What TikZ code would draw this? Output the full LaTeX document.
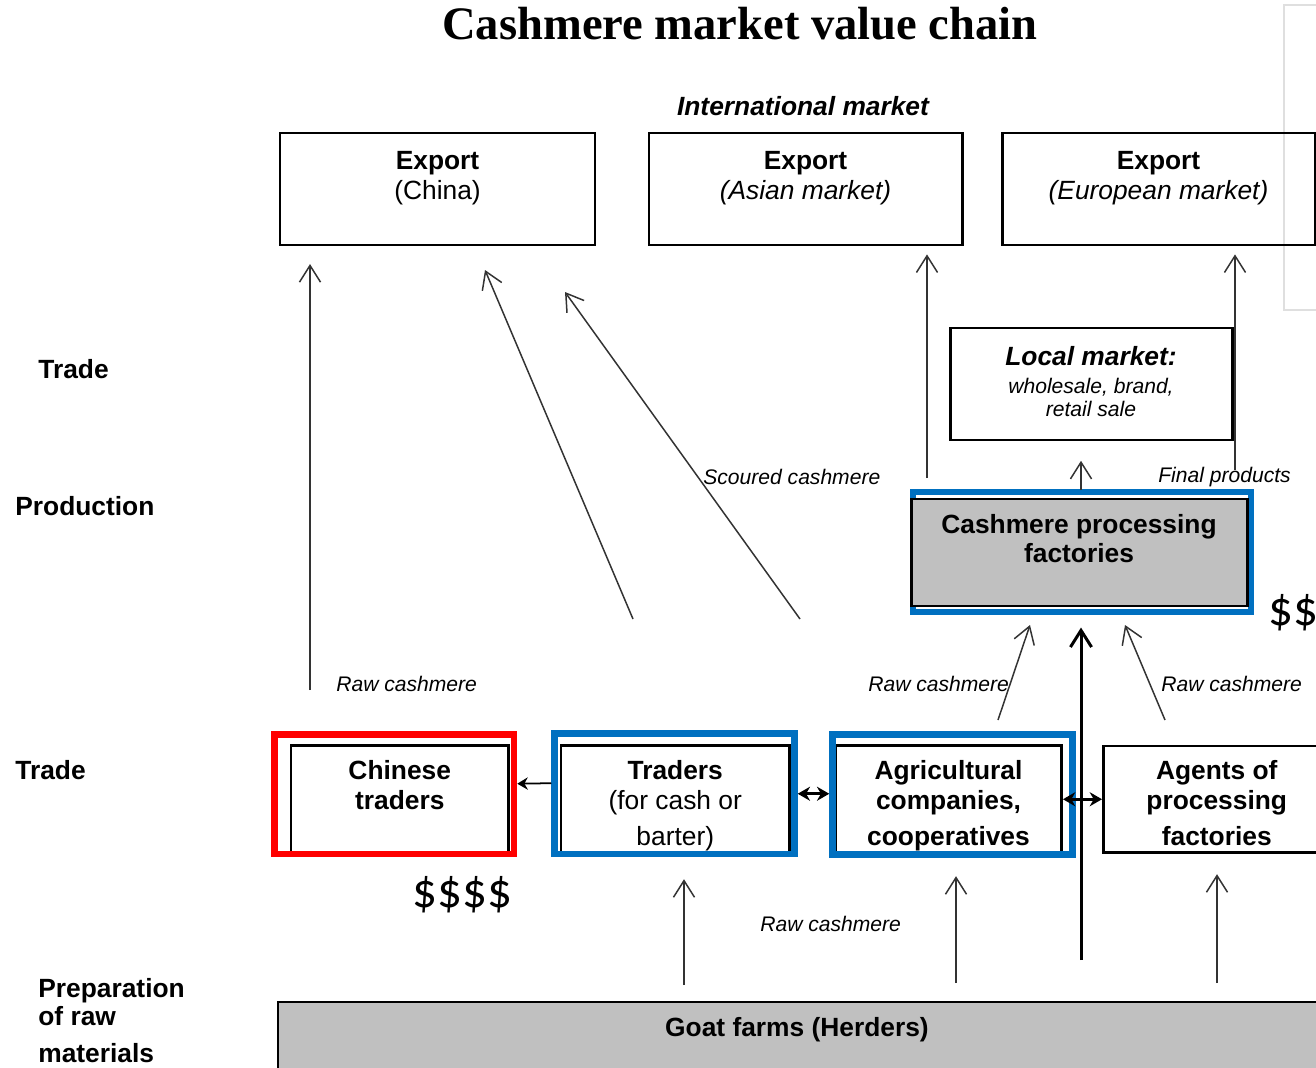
\documentclass[tikz,border=0pt]{standalone}
\usepackage{fontspec}
\setmainfont{Liberation Sans}
\newfontfamily\titlefont{Liberation Serif}
\newfontfamily\dollarfont{Carlito}
\usetikzlibrary{arrows.meta, positioning, fit}
\definecolor{boxblue}{HTML}{0070C0}
\definecolor{boxred}{HTML}{FF0000}
\definecolor{farmgray}{HTML}{C0C0C0}
\AtBeginDocument{\fontsize{15}{17}\selectfont}

\begin{document}
\begin{tikzpicture}[x=0.02cm, y=-0.02cm, align=center]
\tikzstyle{box}=[draw=black, line width=1.7pt, inner sep=0pt]
\tikzstyle{markframe}=[line width=3.7pt, inner sep=0pt]
\tikzstyle{inbox}=[inner sep=0pt]
\tikzstyle{flow}=[-{Straight Barb[length=9.5pt,width=12pt]}, draw=black!80, line width=0.85pt]
\tikzstyle{swap}=[{Stealth[length=7pt,width=8pt]}-{Stealth[length=7pt,width=8pt]}, line width=1.6pt]
\tikzstyle{note}=[inner sep=0pt, anchor=west, font=\fontsize{12}{14}\selectfont\itshape]
\tikzstyle{rowlabel}=[inner sep=0pt, align=left, font=\fontsize{15}{16}\selectfont\bfseries]
\tikzstyle{money}=[inner sep=0pt, anchor=west, font=\dollarfont\fontsize{28}{32}\selectfont]

\useasboundingbox (0,0) rectangle (1316,1068);
\draw[gray!25, line width=1pt] (1330,5) -- (1284,5) -- (1284,310) -- (1330,310);

\node (title) at (740,24) {\titlefont\bfseries\fontsize{26.5}{30}\selectfont Cashmere market value chain};
\node (intMarket) at (803,106) {\bfseries\itshape International market};

% export boxes
\node[box, fit={(280,133) (595,245)}] (expChina) {};
\node[box, fit={(649,133) (962,245)}] (expAsia) {};
\node[box, fit={(1002,133) (1315,245)}] (expEurope) {};
\node[inbox, below = 0.4cm of expChina.north] (expChinaText) {\textbf{Export}\\(China)};
\node[inbox, below = 0.4cm of expAsia.north] (expAsiaText) {\textbf{Export}\\\itshape(Asian market)};
\node[inbox, below = 0.4cm of expEurope.north] (expEuropeText) {\textbf{Export}\\\itshape(European market)};

% local market
\node[box, fit={(950,328) (1232,440)}] (localMarket) {};
\node[inbox, below = 0.4cm of localMarket.north, font=\fontsize{12}{13.5}\selectfont] (localMarketText)
  {{\fontsize{15}{17}\selectfont\bfseries\itshape Local market:}\\[2pt]\itshape wholesale, brand,\\\itshape retail sale};

% processing
\node[markframe, draw=boxblue, fit={(913,492) (1251,612)}] (procMark) {};
\node[box, fill=farmgray, fit={(911,499) (1247,606)}] (procFactories) {};
\node[inbox, below = 0.33cm of procFactories.north, font=\fontsize{15}{16.5}\selectfont\bfseries] (procText) {Cashmere processing\\factories};

% trade row
\node[box, fit={(291,745.5) (508.5,853)}] (chinaBox) {};
\node[markframe, draw=boxred, fit={(274.5,734.5) (514,854)}] (chinaMark) {};
\node[box, fit={(561,745.5) (789.5,853)}] (tradersBox) {};
\node[markframe, draw=boxblue, fit={(554.5,733.5) (794.5,854)}] (tradersMark) {};
\node[box, fit={(835.5,745.5) (1061.5,853)}] (agriBox) {};
\node[markframe, draw=boxblue, fit={(832.5,734.5) (1072.5,854.5)}] (agriMark) {};
\node[box, fit={(1103.5,746) (1330,852.5)}] (agents) {};
\node[inbox, below = 0.32cm of chinaBox.north, font=\bfseries] (chinaText) {Chinese\\traders};
\node[inbox, below = 0.32cm of tradersBox.north] (tradersText) {\textbf{Traders}\\(for cash or\\[3.5pt]barter)};
\node[inbox, below = 0.32cm of agriBox.north, font=\bfseries] (agriText) {Agricultural\\companies,\\[3.5pt]cooperatives};
\node[inbox, below = 0.32cm of agents.north, font=\bfseries] (agentsText) {Agents of\\processing\\[3.5pt]factories};

% goat farms
\node[draw=black, line width=1.2pt, fill=farmgray, inner sep=0pt, fit={(278,1002) (1340,1090)}] (goatFarms) {};
\node[font=\bfseries] (goatText) at (797,1030) {Goat farms (Herders)};

% row labels
\node[rowlabel, anchor=west] (tradeTop) at (38,369) {Trade};
\node[rowlabel, anchor=west] (production) at (15,506) {Production};
\node[rowlabel, anchor=west] (tradeMid) at (15,770) {Trade};
\node[rowlabel, anchor=north west] (preparation) at (38,978) {Preparation\\of raw\\[5pt]materials};

\node[money] (chinaMoney) at (412,895) {\$\$\$\$};
\node[money] (procMoney) at (1268,613) {\$\$};

\node[note] (rawLeft) at (336,684) {Raw cashmere};
\node[note] (scoured) at (703,477) {Scoured cashmere};
\node[note] (finalProducts) at (1158,477) {Final products};
\node[note] (rawProcLeft) at (868,684) {Raw cashmere};
\node[note] (rawProcRight) at (1161,684) {Raw cashmere};
\node[note] (rawFarms) at (760,924) {Raw cashmere};

% arrow ends
\coordinate (rawChinaTail) at (310,690);
\coordinate (scouredTailA) at (633,619);
\coordinate (scouredHeadA) at (485,270);
\coordinate (scouredTailB) at (800,619);
\coordinate (scouredHeadB) at (565,292);
\coordinate (asiaTail) at (927,478);
\coordinate (europeTail) at (1235,470);
\coordinate (localTail) at (1081,490);
\coordinate (agriUp) at (998,720);
\coordinate (procHeadA) at (1030,625);
\coordinate (farmLine) at (1081,960);
\coordinate (agentsUp) at (1165,720);
\coordinate (procHeadC) at (1125,625);
\coordinate (farmToTraders) at (684,985);
\coordinate (farmToAgri) at (956,983);
\coordinate (farmToAgents) at (1217,983);

\draw[flow, shorten >=10pt] (rawChinaTail) -- (rawChinaTail |- expChina.south);
\draw[flow] (scouredTailA) -- (scouredHeadA);
\draw[flow] (scouredTailB) -- (scouredHeadB);
\draw[flow, shorten >=4.5pt] (asiaTail) -- (asiaTail |- expAsia.south);
\draw[flow, shorten >=4.5pt] (europeTail) -- (europeTail |- expEurope.south);
\draw[flow, shorten >=11pt] (localTail) -- (localTail |- localMarket.south);
\draw[flow] (agriUp) -- (procHeadA);
\draw[flow, draw=black, line width=1.7pt, shorten >=7pt] (farmLine) -- (farmLine |- procMark.south);
\draw[flow] (agentsUp) -- (procHeadC);
\draw[flow, shorten >=12.5pt] (farmToTraders) -- (farmToTraders |- tradersMark.south);
\draw[flow, shorten >=10.5pt] (farmToAgri) -- (farmToAgri |- agriMark.south);
\draw[flow, shorten >=11.5pt] (farmToAgents) -- (farmToAgents |- agents.south);

\draw[-{Stealth[length=6pt,width=7pt]}, line width=1pt] ([yshift=6pt]tradersMark.west) -- ([yshift=6pt]chinaMark.east);
\draw[swap] (tradersMark.east) -- (tradersMark.east -| agriMark.west);
\draw[swap] (agriBox.east) -- (agriBox.east -| agents.west);
\end{tikzpicture}
\end{document}
